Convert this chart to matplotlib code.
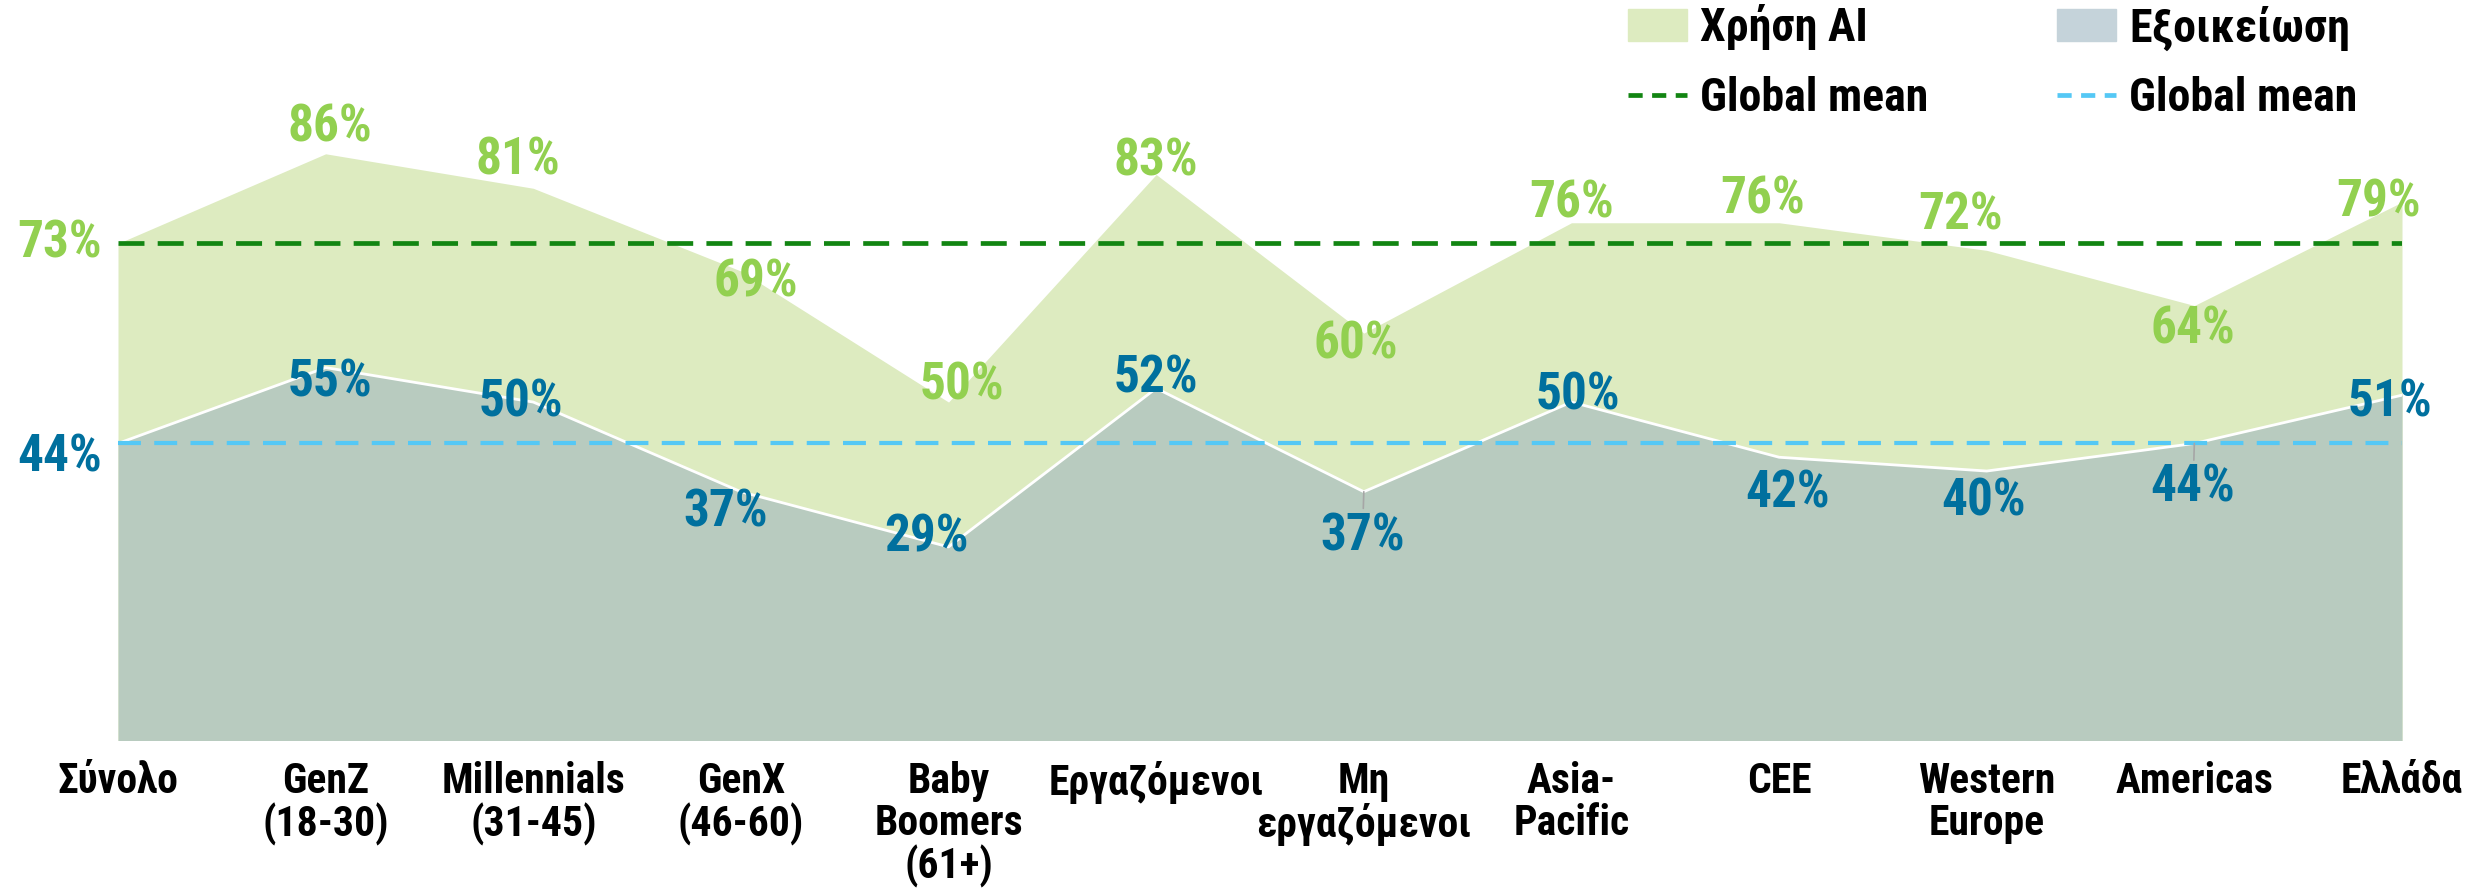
import numpy as np
import matplotlib.pyplot as plt
from matplotlib.patches import Patch
from matplotlib.lines import Line2D

plt.rcParams['font.family'] = ['Roboto Condensed', 'DejaVu Sans']
plt.rcParams['font.weight'] = 'bold'

categories = ['Σύνολο', 'GenZ\n(18-30)', 'Millennials\n(31-45)', 'GenX\n(46-60)',
              'Baby\nBoomers\n(61+)', 'Εργαζόμενοι', 'Μη\nεργαζόμενοι', 'Asia-\nPacific',
              'CEE', 'Western\nEurope', 'Americas', 'Ελλάδα']
ai_use = [73, 86, 81, 69, 50, 83, 60, 76, 76, 72, 64, 79]
familiarity = [44, 55, 50, 37, 29, 52, 37, 50, 42, 40, 44, 51]
mean_ai = 73
mean_fam = 44

# label offsets in points (layout only)
ai_off = [(-42, 0), (3, 19), (-11, 20), (11, -8), (10, 12), (0, 9),
          (-6, -8), (0, 14), (-12, 17), (-19, 25), (-1, -17), (-17, 0)]
fam_off = [(-42, -10), (3, -11), (-9, 0), (-11, -15), (-16, 7), (0, 7),
           (-1, -32), (5, 5), (6, -26), (-2, -22), (-1, -32), (-9, -5)]

GREEN_FILL = '#DDEBC0'
FAM_FILL = '#B8CBBF'
GREEN_TXT = '#92D050'
BLUE_TXT = '#00709E'
GREEN_LINE = '#128512'
BLUE_LINE = '#55C8F5'

fig = plt.figure(figsize=(24.73, 8.91), dpi=100)
ax = fig.add_axes([118 / 2473, 1 - 740 / 891, (2402 - 118) / 2473, 740 / 891])

x = np.arange(len(categories))
ax.fill_between(x, 0, ai_use, color=GREEN_FILL, lw=0)
ax.fill_between(x, 0, familiarity, color=FAM_FILL, lw=0)
ax.plot(x, familiarity, color='white', lw=2)

ax.axhline(mean_ai, color=GREEN_LINE, lw=3.4, dashes=(5.5, 2.8))
ax.axhline(mean_fam, color=BLUE_LINE, lw=3, dashes=(5.5, 3.2))

for i, v in enumerate(ai_use):
    ax.annotate(f'{v}%', (i, v), xytext=ai_off[i], textcoords='offset points',
                ha='center', va='center', fontsize=37, color=GREEN_TXT, fontweight='heavy')
for i, v in enumerate(familiarity):
    kw = {}
    if i in (6, 10):
        kw['arrowprops'] = dict(arrowstyle='-', color='#A6A6A6', lw=1.2, shrinkA=20, shrinkB=0)
    ax.annotate(f'{v}%', (i, v), xytext=fam_off[i], textcoords='offset points',
                ha='center', va='center', fontsize=37, color=BLUE_TXT, fontweight='heavy', **kw)

ax.set_xlim(0, len(categories) - 1)
ax.set_ylim(1, 108.3)
ax.set_xticks(x)
ax.set_xticklabels(categories, fontsize=30, fontweight='heavy', linespacing=1.03)
ax.tick_params(axis='x', length=0, pad=15)
ax.set_yticks([])
for s in ax.spines.values():
    s.set_visible(False)

handles = [Patch(color=GREEN_FILL),
           Line2D([], [], color=GREEN_LINE, lw=3.4, dashes=(3, 2)),
           Patch(color='#C5D3DA'),
           Line2D([], [], color=BLUE_LINE, lw=3.4, dashes=(3, 2))]
labels = ['Χρήση AI', 'Global mean', 'Εξοικείωση', 'Global mean']
leg = fig.legend(handles, labels, ncol=2, loc='upper left', bbox_to_anchor=(1032 / 1568, 0.995),
                 frameon=False, fontsize=33, handlelength=1.3, handletextpad=0.28,
                 columnspacing=2.8, labelspacing=0.55, borderpad=0, borderaxespad=0)
for t in leg.get_texts():
    t.set_fontweight('heavy')

fig.savefig('out.png', dpi=100)
